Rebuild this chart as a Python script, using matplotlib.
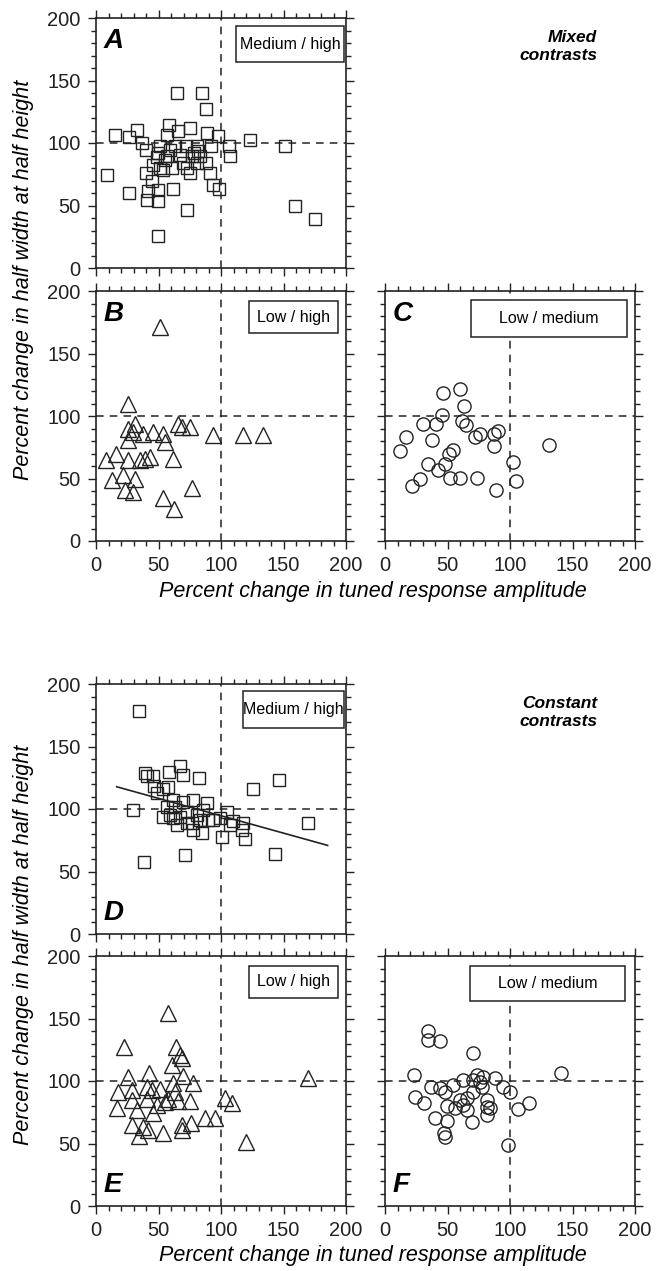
import matplotlib
matplotlib.use("Agg")
import matplotlib.pyplot as plt
from matplotlib.ticker import MultipleLocator
from matplotlib.patches import Rectangle

plt.rcParams['font.family'] = ['Liberation Sans', 'DejaVu Sans']

# ---- data (percent change) ----
# Mixed contrasts
a_x = [8.5, 15, 26.7, 26.7, 32.8, 36.5, 39.7, 39.7, 41.9, 40.5, 44.5, 49.9, 49.9, 49.9,
       45.9, 49.9, 51.2, 53.9, 55.2, 58.7, 56.5, 59.2, 60.5, 61.3, 64.5, 65.9, 63.2, 67.2,
       69.3, 72.5, 75.2, 75.2, 76.5, 80.5, 80.5, 81.9, 84.5, 88, 88.5, 88, 91.2, 91.7,
       93.9, 97.9, 98.7, 106.7, 107.2, 123.2, 151.2, 159.2, 175.2, 48.5, 72, 83, 56.5,
       51.5, 72.5, 78.5]
a_y = [74.7, 106.7, 60, 104.8, 110.4, 100, 94.7, 76, 61.3, 54.7, 69.3, 53.3, 62.7, 25.9,
       82.7, 92, 97.3, 78.7, 86.7, 114.7, 106.7, 94.7, 80, 63.5, 140, 109.3, 97.3, 90.7,
       84, 46.7, 112, 76, 89.3, 97.3, 84, 93.3, 140, 127.2, 108, 84, 76, 97.3,
       66.7, 105.3, 63.5, 97.3, 89.3, 102.7, 97.9, 49.3, 39.2, 88.5, 97.3, 89.3, 89.3,
       80, 80, 92]

b_x = [51.2, 25.3, 31.2, 25.9, 37.9, 45.9, 53.9, 55.2, 65.9, 68.5, 75.2, 93.9, 117.9,
       133.9, 25.3, 8, 16, 25.9, 35.2, 39.2, 43.2, 61.9, 12.5, 21.9, 31.2, 23.2, 29.9,
       53.9, 62.4, 76.5, 29.9]
b_y = [171.2, 110, 93.5, 90, 85.5, 87.4, 85.5, 79.4, 94, 91.3, 91.3, 84.7, 84.7,
       84.7, 80.7, 65.2, 70, 64.7, 65.2, 66, 67.4, 66, 48.7, 52.7, 50, 40.7, 39.4,
       34.1, 25.3, 42.1, 87.4]

c_x = [46.7, 60, 63.2, 45.9, 40.8, 30.7, 16.8, 12, 37.3, 61.3, 64.8, 72, 76, 87.2,
       90.7, 87.2, 131.5, 102.7, 104.8, 88.5, 73.3, 60, 52, 54.1, 51.5, 48, 42.1, 34.7,
       28, 21.3]
c_y = [118.5, 121.4, 107.9, 101.2, 94, 94, 83.4, 71.9, 81.2, 96.1, 92.7, 83.4, 85.5, 86,
       88.1, 75.9, 76.7, 63.4, 48.2, 40.7, 50.1, 50.6, 50.6, 72.7, 70, 62, 56.7, 61.5,
       49.3, 44.2]

# Constant contrasts
d_x = [34.7, 29.9, 38.4, 39.2, 40.5, 45.9, 46.4, 48.5, 53.9, 57.9, 58.7, 67.2, 69.3,
       82.1, 71.2, 61.3, 63.2, 53.9, 61.9, 67.2, 69.9, 72.5, 77.9, 76.5, 80.5, 84.5,
       88.5, 89.9, 85.9, 99.2, 100.5, 104.5, 107.2, 109.9, 117.3, 119.2, 116.5, 125.3,
       146.7, 143.2, 169.9, 59.2, 72.5, 77.9, 64.5, 56.5, 83.2, 93.9]
d_y = [178.2, 99.2, 57.6, 128.9, 126.3, 126.5, 118.3, 112.5, 116.4, 117.8, 129.7, 134.2,
       127.1, 125.2, 62.9, 107.2, 101.9, 93.9, 92.6, 93.9, 105.8, 97.9, 107.2, 88.6, 95.2,
       80.6, 104.5, 91.2, 99.2, 92.6, 78, 97.9, 87.3, 90.7, 89.1, 75.9, 83.3, 116.2,
       123.1, 63.9, 89.1, 95.2, 88.6, 83.3, 87.3, 101.9, 91.2, 91.2]
# least-squares line drawn in panel D
fit_slope = -0.278
fit_intercept = 122.4
fit_range = [16.5, 185.3]

e_x = [57.3, 22.4, 64, 67.2, 68.5, 60.5, 25.9, 42.7, 69.3, 77.3, 17.9, 28.8, 40.5, 44.5,
       50.9, 61.6, 62.9, 28.8, 40.5, 48.5, 55.2, 65.9, 75.2, 16.5, 32.5, 45.9, 28.8, 37.9,
       41.9, 34.7, 53.9, 68.5, 75.7, 68.5, 87.2, 95.2, 103.2, 108.5, 120, 169.9, 57.9]
e_y = [154.7, 127.5, 127.5, 120.8, 118.1, 112.8, 103.5, 106.7, 104, 98.7, 91.5, 92.8,
       95.5, 92.8, 93.3, 98.1, 91.5, 84.8, 85.3, 80.8, 83.5, 84.3, 84.3, 78.1, 76.8, 74.7,
       64.8, 63.5, 60.8, 56, 58.1, 60.8, 66.1, 64.8, 70.1, 70.1, 86.1, 82.7, 51.5, 102.1,
       85.3]

f_x = [34.7, 34.7, 44, 70.7, 23.2, 140.5, 24, 31.2, 36.5, 44, 48, 54.1, 62.1, 73.9, 78.7,
       88, 94.7, 100, 106.7, 115.5, 98.7, 40, 49.3, 47.2, 48, 69.3, 81.9, 81.3, 84, 65.3,
       56, 49.3, 60, 65.3, 70.7, 77.3, 81.3, 70.7, 62.7, 76]
f_y = [140.3, 132.8, 132, 122.1, 104.8, 106.1, 86.9, 82.1, 95.5, 94.1, 91.5, 96.8, 100.8,
       104.8, 103.5, 102.1, 94.9, 91.5, 77.3, 82.1, 48.8, 70.1, 68.3, 58.1, 55.5, 67.5,
       72.8, 79.5, 78.1, 76.8, 78.1, 80, 84.8, 86.1, 91.5, 94.9, 84.8, 100.8, 80.8, 99.5]

labels = ['Medium / high', 'Low / high', 'Low / medium',
          'Medium / high', 'Low / high', 'Low / medium']

fig = plt.figure(figsize=(6.63, 12.71), dpi=100)
W, H = 663.0, 1271.0


def make_axes(left_px, top_px):
    return fig.add_axes([left_px / W, 1 - (top_px + 250) / H, 250 / W, 250 / H])


def style(ax, show_x, show_y):
    ax.set_xlim(0, 200)
    ax.set_ylim(0, 200)
    ax.set_xticks([0, 50, 100, 150, 200])
    ax.set_yticks([0, 50, 100, 150, 200])
    ax.xaxis.set_minor_locator(MultipleLocator(10))
    ax.yaxis.set_minor_locator(MultipleLocator(10))
    ax.tick_params(which='both', direction='out', top=True, right=True,
                   labelbottom=show_x, labelleft=show_y, labelsize=14.5,
                   width=1.0, colors='#222222')
    ax.tick_params(axis='x', pad=4.5)
    ax.tick_params(axis='y', pad=5)
    ax.tick_params(which='major', length=6)
    ax.tick_params(which='minor', length=3.5)
    for s in ax.spines.values():
        s.set_linewidth(1.2)
        s.set_color('#222222')
    ax.axhline(100, color='#222222', lw=1.1, ls=(0, (5, 4)), zorder=1)
    ax.axvline(100, color='#222222', lw=1.1, ls=(0, (5, 4)), zorder=1)


def label_box(ax, text, x0, x1, y0, y1):
    ax.add_patch(Rectangle((x0, y0), x1 - x0, y1 - y0, transform=ax.transAxes,
                           facecolor='white', edgecolor='#222222', lw=1.1, zorder=3))
    ax.text((x0 + x1) / 2, (y0 + y1) / 2, text, transform=ax.transAxes,
            ha='center', va='center', fontsize=11.5, zorder=4)


def letter(ax, s, top):
    if top:
        ax.text(0.03, 0.96, s, transform=ax.transAxes, ha='left', va='top',
                fontsize=20, fontweight='bold', fontstyle='italic')
    else:
        ax.text(0.03, 0.03, s, transform=ax.transAxes, ha='left', va='bottom',
                fontsize=20, fontweight='bold', fontstyle='italic')


mk = dict(mfc='none', mec='#222222', mew=1.0, ls='none', zorder=2)

# Mixed contrasts
axA = make_axes(96, 18)
style(axA, False, True)
axA.plot(a_x, a_y, marker='s', ms=8.8, **mk)
label_box(axA, labels[0], 0.56, 0.992, 0.824, 0.968)
letter(axA, 'A', True)

axB = make_axes(96, 291)
style(axB, True, True)
axB.plot(b_x, b_y, marker='^', ms=11, **mk)
label_box(axB, labels[1], 0.612, 0.968, 0.832, 0.96)
letter(axB, 'B', True)

axC = make_axes(385, 291)
style(axC, True, False)
axC.plot(c_x, c_y, marker='o', ms=9.5, **mk)
label_box(axC, labels[2], 0.344, 0.968, 0.816, 0.964)
letter(axC, 'C', True)

# Constant contrasts
axD = make_axes(96, 684)
style(axD, False, True)
axD.plot(d_x, d_y, marker='s', ms=8.8, **mk)
axD.plot(fit_range, [fit_intercept + fit_slope * v for v in fit_range],
         color='#222222', lw=1.2, zorder=2)
label_box(axD, labels[3], 0.588, 0.992, 0.824, 0.972)
letter(axD, 'D', False)

axE = make_axes(96, 956)
style(axE, True, True)
axE.plot(e_x, e_y, marker='^', ms=11, **mk)
label_box(axE, labels[4], 0.612, 0.968, 0.833, 0.96)
letter(axE, 'E', False)

axF = make_axes(385, 956)
style(axF, True, False)
axF.plot(f_x, f_y, marker='o', ms=9.5, **mk)
label_box(axF, labels[5], 0.34, 0.96, 0.82, 0.96)
letter(axF, 'F', False)

# group titles and shared axis labels
fig.text(597 / W, 1 - 30 / H, 'Mixed\ncontrasts', ha='right', va='top',
         fontsize=12.5, fontweight='bold', fontstyle='italic', linespacing=1.25)
fig.text(597 / W, 1 - 696 / H, 'Constant\ncontrasts', ha='right', va='top',
         fontsize=12.5, fontweight='bold', fontstyle='italic', linespacing=1.25)

for yc in (280, 945):
    fig.text(24 / W, 1 - yc / H, 'Percent change in half width at half height',
             rotation=90, ha='center', va='center', fontsize=15.5, fontstyle='italic')
for yc in (591, 1256):
    fig.text(373 / W, 1 - yc / H, 'Percent change in tuned response amplitude',
             ha='center', va='center', fontsize=15.5, fontstyle='italic')

fig.savefig('out.png', dpi=100)
